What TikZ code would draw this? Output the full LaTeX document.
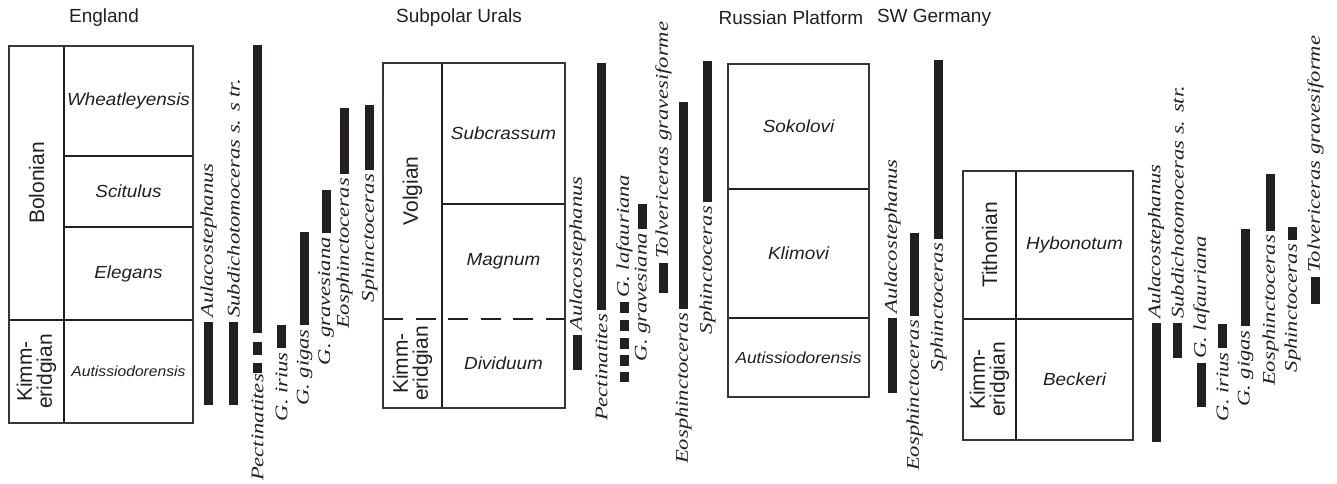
\documentclass[tikz,border=0pt]{standalone}
\usepackage{fontspec}
\setmainfont{Liberation Serif}
\newfontfamily\hsans[FakeStretch=1.08]{Liberation Sans}
\newfontfamily\rsans{Liberation Sans}
\newfontfamily\labserif[FakeStretch=1.27]{Liberation Serif}
\definecolor{ink}{HTML}{231F20}
\tikzset{
  frame/.style={draw=ink!90, line width=1.2pt},
  divl/.style={draw=ink, line width=2.3pt},
  thinl/.style={draw=ink, line width=1.5pt},
  dashl/.style={draw=ink, line width=2.3pt, dash pattern=on 20pt off 12.5pt},
  zone/.style={font=\hsans\itshape\fontsize{17.5}{19}\selectfont, text=ink, inner sep=0pt},
  stage/.style={font=\rsans\fontsize{21}{20}\selectfont, text=ink, rotate=90, align=center, inner sep=0pt},
  head/.style={font=\rsans\fontsize{19}{21}\selectfont, text=ink, inner sep=0pt},
  lab/.style={font=\labserif\itshape\fontsize{17.8}{18}\selectfont, text=ink, rotate=90, inner sep=0pt},
  barc/.style={fill=ink},
}
\newcommand\tbar[3]{\fill[barc] (#1-4.5,#2) rectangle (#1+4.5,#3);}
\newcommand\tup[4]{\node[lab,anchor=west] (#4) at (#1,#2-4) {#3};}
\newcommand\tdown[4]{\node[lab,anchor=east] (#4) at (#1,#2+4) {#3};}
\begin{document}
\begin{tikzpicture}[x=1pt,y=-1pt]
\useasboundingbox (0,0) rectangle (1337,483);
\fill[white] (0,0) rectangle (1337,483);

% ---------- headings
\node[head] (hEng) at (104,18) {England};
\node[head] (hUra) at (459,18) {Subpolar Urals};
\node[head] (hRus) at (791,18) {Russian Platform};
\node[head] (hGer) at (934,18) {SW Germany};

% ---------- England column
\draw[divl] (64,46) -- (64,423);
\draw[divl] (64,156) -- (193,156);
\draw[divl] (64,227) -- (193,227);
\draw[divl] (9,320) -- (193,320);
\draw[frame] (9,46) rectangle (193,423);
\node[zone] (eW) at (128.5,101) {Wheatleyensis};
\node[zone] (eS) at (128.5,191.5) {Scitulus};
\node[zone] (eE) at (128.5,273.5) {Elegans};
\node[zone,font=\hsans\itshape\fontsize{14.5}{16}\selectfont] (eA) at (128.5,371.5) {Autissiodorensis};
\node[stage] (eBol) at (36.5,183) {Bolonian};
\node[stage] (eKim) at (36.5,371.5) {Kimm-\\eridgian};

% England taxa
\tbar{208.5}{322}{405} \tup{208.5}{322}{Aulacostephanus}{eT1}
\tbar{233.5}{322}{405} \tup{233.5}{322}{Subdichotomoceras s. s tr.}{eT2}
\tbar{257.5}{45}{333} \tbar{257.5}{342}{355} \tbar{257.5}{363}{373}
\tdown{257.5}{370}{Pectinatites}{eT3}
\tbar{281.5}{325}{348} \tdown{281.5}{348}{G. irius}{eT4}
\tbar{304.5}{232}{325} \tdown{304.5}{325}{G. gigas}{eT5}
\tbar{326}{190}{233} \tdown{326}{233}{G. gravesiana}{eT6}
\tbar{344.5}{108}{174} \tdown{344.5}{174}{Eosphinctoceras}{eT7}
\tbar{369.5}{105}{170} \tdown{369.5}{170}{Sphinctoceras}{eT8}

% ---------- Subpolar Urals column
\draw[divl] (442,63) -- (442,408);
\draw[divl] (442,204) -- (565,204);
\draw[dashl] (383,319) -- (442,319);
\draw[dashl] (448,319) -- (565,319);
\draw[frame] (383,63) rectangle (565,408);
\node[zone] (uS) at (503.5,133.5) {Subcrassum};
\node[zone] (uM) at (503.5,261.5) {Magnum};
\node[zone] (uD) at (503.5,363.5) {Dividuum};
\node[stage] (uVol) at (412.5,191) {Volgian};
\node[stage] (uKim) at (412.5,363.5) {Kimm-\\eridgian};

\tbar{577.5}{335}{370} \tup{577.5}{335}{Aulacostephanus}{uT1}
\tbar{601.5}{63}{310} \tdown{601.5}{310}{Pectinatites}{uT2}
\tbar{624.5}{302}{313} \tbar{624.5}{320}{331} \tbar{624.5}{338}{349}
\tbar{624.5}{355}{366} \tbar{624.5}{372}{382}
\tup{624.5}{302}{G. lafauriana}{uT3}
\tbar{642.5}{204}{229} \tdown{642.5}{229}{G. gravesiana}{uT4}
\tbar{663.5}{263}{293} \tup{663.5}{263}{Tolvericeras gravesiforme}{uT5}
\tbar{683.5}{102}{309} \tdown{683.5}{309}{Eosphinctoceras}{uT6}
\tbar{707.5}{61}{202} \tdown{707.5}{202}{Sphinctoceras}{uT7}

% ---------- Russian Platform column
\draw[thinl] (728,189) -- (869,189);
\draw[thinl] (728,318) -- (869,318);
\draw[frame] (728,64) rectangle (869,397);
\node[zone] (rS) at (798.5,126.5) {Sokolovi};
\node[zone] (rK) at (798.5,253.5) {Klimovi};
\node[zone,font=\hsans\itshape\fontsize{16}{17}\selectfont] (rA) at (798.5,357.5) {Autissiodorensis};

\tbar{892.5}{318}{393} \tup{892.5}{318}{Aulacostephanus}{rT1}
\tbar{914.5}{233}{316} \tdown{914.5}{316}{Eosphinctoceras}{rT2}
\tbar{938.5}{60}{239} \tdown{938.5}{239}{Sphinctoceras}{rT3}

% ---------- SW Germany column
\draw[divl] (1016,171) -- (1016,440);
\draw[divl] (963,319) -- (1133,319);
\draw[frame] (963,171) rectangle (1133,440);
\node[zone] (gH) at (1074.5,245) {Hybonotum};
\node[zone] (gB) at (1074.5,379.5) {Beckeri};
\node[stage] (gTit) at (989.5,245) {Tithonian};
\node[stage] (gKim) at (989.5,379.5) {Kimm-\\eridgian};

\tbar{1156}{323}{442} \tup{1156}{323}{Aulacostephanus}{gT1}
\tbar{1177.5}{323}{358} \tup{1177.5}{323}{Subdichotomoceras s. str.}{gT2}
\tbar{1201.5}{363}{407} \tup{1201.5}{363}{G. lafauriana}{gT3}
\tbar{1222.5}{324}{348} \tdown{1222.5}{348}{G. irius}{gT4}
\tbar{1245.5}{229}{326} \tdown{1245.5}{326}{G. gigas}{gT5}
\tbar{1270.5}{174}{231} \tdown{1270.5}{231}{Eosphinctoceras}{gT6}
\tbar{1292.5}{227}{240} \tdown{1292.5}{240}{Sphinctoceras}{gT7}
\tbar{1315.5}{277}{304} \tup{1315.5}{277}{Tolvericeras gravesiforme}{gT8}
\end{tikzpicture}
\end{document}
